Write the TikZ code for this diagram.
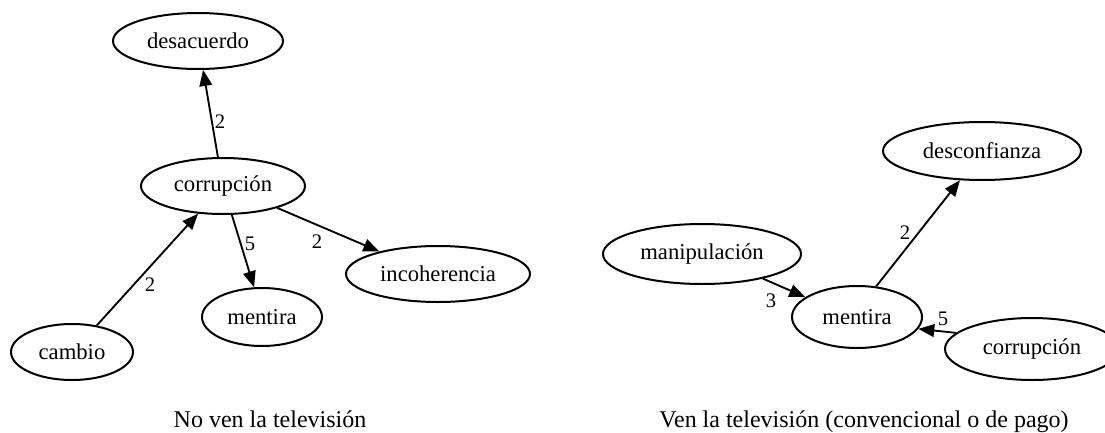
\documentclass[tikz,border=0pt]{standalone}
\usepackage{fontspec}
\setmainfont{Liberation Serif}
\usetikzlibrary{shapes.geometric,arrows.meta}
\begin{document}
\begin{tikzpicture}[x=0.75pt,y=-0.75pt,
  term/.style={ellipse,draw,line width=1.5pt,inner sep=0pt,font=\fontsize{17}{19}\selectfont},
  link/.style={line width=1.4pt,-{Triangle[length=12pt,width=9.5pt]}},
  wt/.style={font=\fontsize{15.5}{17}\selectfont,inner sep=0pt},
  captext/.style={font=\fontsize{18}{20}\selectfont,inner sep=0pt,anchor=base}]
\clip (0,0) rectangle (1105,432);
% left graph
\node[term,minimum width=127.5pt,minimum height=42pt] (desL) at (198,41) {desacuerdo};
\node[term,minimum width=123pt,minimum height=42pt] (corL) at (223,186) {corrupción};
\node[term,minimum width=91.5pt,minimum height=42pt] (camL) at (72,352) {cambio};
\node[term,minimum width=90pt,minimum height=43.5pt] (menL) at (262,317) {mentira};
\node[term,minimum width=138pt,minimum height=42pt] (incL) at (438,274) {incoherencia};
\draw[link] (corL.100) -- (desL.280);
\draw[link] (camL.47) -- (corL.228);
\draw[link] (corL.287) -- (menL.105);
\draw[link] (corL.338) -- (incL.159);
\node[wt] (w1) at (220,122) {2};
\node[wt] (w2) at (150,285) {2};
\node[wt] (w3) at (250,244) {5};
\node[wt] (w4) at (317,242) {2};
% right graph
\node[term,minimum width=148.5pt,minimum height=43.5pt] (desR) at (982,151) {desconfianza};
\node[term,minimum width=148.5pt,minimum height=45pt] (manR) at (702,254) {manipulación};
\node[term,minimum width=97.5pt,minimum height=46.5pt] (menR) at (857,317) {mentira};
\node[term,minimum width=130.5pt,minimum height=46.5pt] (corR) at (1032,349) {corrupción};
\draw[link] (menR.58) -- (desR.233);
\draw[link] (manR.338) -- (menR.159);
\draw[link] (corR.168) -- (menR.349);
\node[wt] (w5) at (905,233) {2};
\node[wt] (w6) at (771,301) {3};
\node[wt] (w7) at (943,319) {5};
% captions
\node[captext] (c1) at (270,427) {No ven la televisión};
\node[captext] (c2) at (864,427) {Ven la televisión (convencional o de pago)};
\end{tikzpicture}
\end{document}
